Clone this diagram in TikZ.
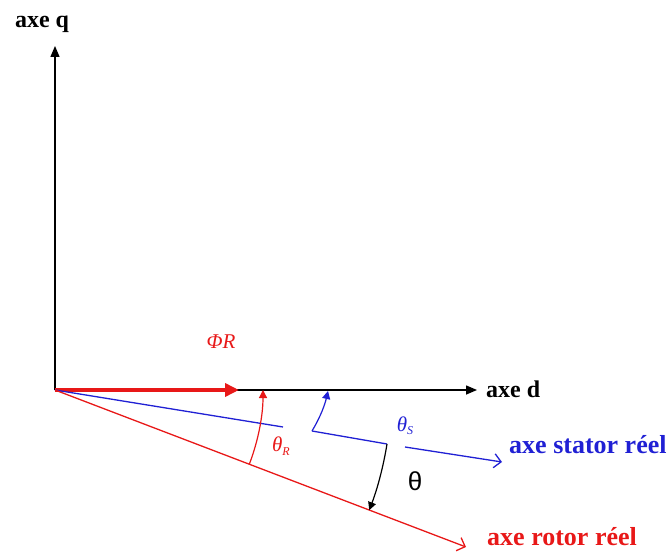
\documentclass[tikz,border=0pt]{standalone}
\usepackage{fontspec}
\setmainfont{Liberation Serif}
\newfontfamily\sansfont{Liberation Sans}
\usetikzlibrary{arrows.meta, positioning}

\definecolor{rotred}{RGB}{232,24,24}
\definecolor{statblue}{RGB}{32,32,212}
\newcommand{\lowidx}[1]{\raisebox{-0.35ex}{\fontsize{12}{12}\selectfont #1}}

\begin{document}
\begin{tikzpicture}[
    x=1pt, y=-1pt,
    axis/.style={line width=1.5pt, -{Triangle[length=11pt,width=9pt]}},
    realaxis/.style={line width=1.3pt, -{Straight Barb[length=7pt,width=14pt]}},
    anglearc/.style={line width=1.2pt, -{Triangle[length=8pt,width=8pt]}},
    lbl/.style={font=\fontsize{26}{28}\selectfont\bfseries, inner sep=0pt},
    sym/.style={font=\fontsize{21}{23}\selectfont\itshape, inner sep=0pt}
  ]
    \useasboundingbox (0,0) rectangle (671,553);
    % axes d et q
    \coordinate (O) at (55,390);
    \coordinate (qtip) at (55,46);
    \coordinate (dtip) at (477,390);
    \draw[axis] (O) -- (qtip);
    \draw[axis] (O) -- (dtip);
    \node[lbl, font=\fontsize{24}{26}\selectfont\bfseries] (qlbl) at (42,24) {axe q};
    \node[lbl, font=\fontsize{24}{26}\selectfont\bfseries, anchor=west] (dlbl) at (486,389) {axe d};
    % flux rotorique
    \coordinate (phitip) at (239,390);
    \draw[rotred, line width=4pt, -{Triangle[length=14pt,width=13pt]}] (O) -- (phitip);
    \node[sym, rotred] (phi) at (221,342) {ΦR};
    % axe stator reel
    \coordinate (stip) at (502,462);
    \coordinate (s1) at (283,427);
    \coordinate (s2) at (312,431);
    \coordinate (s3) at (387,444);
    \coordinate (s4) at (405,447);
    \draw[statblue, line width=1.3pt] (O) -- (s1);
    \draw[statblue, line width=1.3pt] (s2) -- (s3);
    \draw[statblue, realaxis] (s4) -- (stip);
    \node[lbl, statblue, anchor=west] (slbl) at (509,445) {axe stator réel};
    % axe rotor reel
    \coordinate (rtip) at (466,547);
    \draw[rotred, realaxis] (O) -- (rtip);
    \node[lbl, rotred, anchor=west] (rlbl) at (487,537) {axe rotor réel};
    % angles
    \coordinate (thRa) at ([shift={(20.9:208)}]O);
    \draw[rotred, anglearc] (thRa) arc[start angle=20.9, end angle=0, radius=208];
    \node[sym, rotred] (thR) at (281,446) {θ\lowidx{R}};
    \coordinate (thSb) at (328,391);
    \draw[statblue, anglearc] (s2) .. controls (321,416) and (325,404) .. (thSb);
    \node[sym, statblue] (thS) at (405,426) {θ\lowidx{S}};
    \draw[anglearc] (s3) arc[start angle=9.2, end angle=20.9, radius=336];
    \node[fill=white, minimum width=54pt, minimum height=54pt, font=\sansfont\fontsize{26}{28}\selectfont] (th) at (415,481) {θ};
  \end{tikzpicture}
\end{document}
